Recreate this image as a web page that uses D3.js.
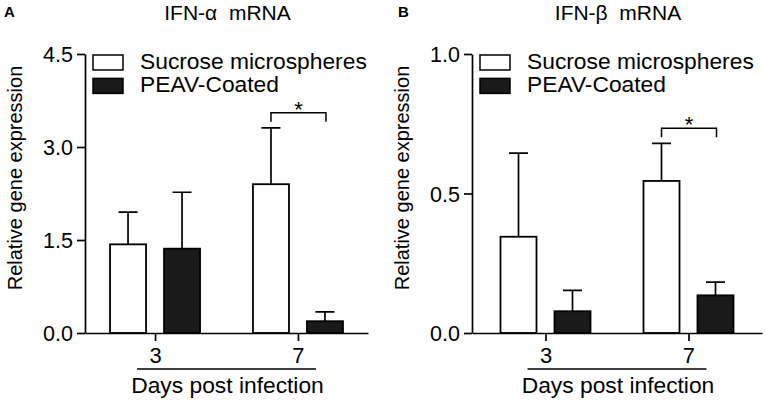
<!DOCTYPE html>
<html>
<head>
<meta charset="utf-8">
<script src="https://cdn.jsdelivr.net/npm/d3@7"></script>
<style>
  body { margin: 0; background: #fff; }
  text { font-family: "Liberation Sans", Arial, sans-serif; fill: #000; }
</style>
</head>
<body>
<svg id="chart" width="765" height="403"></svg>
<script>
// Data (mean and SD per group)
var days = ["3", "7"];
var seriesNames = ["Sucrose microspheres", "PEAV-Coated"];

var alphaSucrose = [1.43, 2.40];
var alphaSucroseSd = [0.52, 0.91];
var alphaPeav = [1.36, 0.19];
var alphaPeavSd = [0.91, 0.15];

var betaSucrose = [0.345, 0.545];
var betaSucroseSd = [0.30, 0.135];
var betaPeav = [0.078, 0.135];
var betaPeavSd = [0.075, 0.047];

var alphaTicks = [0, 1.5, 3.0, 4.5];
var betaTicks = [0, 0.5, 1.0];

var fills = ["#ffffff", "#1a1a1a"];

var svg = d3.select("#chart");
svg.append("rect").attr("width", 765).attr("height", 403).attr("fill", "#fff");

// Draw one panel of the figure
function drawPanel(opt) {
    var g = svg.append("g");

    var y = d3.scaleLinear().domain([0, opt.max]).range([333, 54]);
    var x = d3.scalePoint().domain(days).range([opt.left, opt.right]).padding(opt.pad);
    var sub = d3.scaleBand().domain(seriesNames).range([-45, 45]).paddingInner(0.333);

    // bars + error bars
    var rows = [];
    days.forEach(function(d, i) {
        rows.push({ day: d, s: 0, v: opt.sucrose[i], sd: opt.sucroseSd[i] });
        rows.push({ day: d, s: 1, v: opt.peav[i], sd: opt.peavSd[i] });
    });

    var bar = g.selectAll(".bar").data(rows).enter().append("g");

    bar.append("path")
        .attr("fill", "none")
        .attr("stroke", "#000")
        .attr("stroke-width", 1.7)
        .attr("d", function(d) {
            var cx = x(d.day) + sub(seriesNames[d.s]) + sub.bandwidth() / 2;
            var top = y(d.v + d.sd);
            return "M" + cx + "," + y(d.v) + "V" + top + "M" + (cx - 9.5) + "," + top + "H" + (cx + 9.5);
        });

    bar.append("rect")
        .attr("x", function(d) { return x(d.day) + sub(seriesNames[d.s]); })
        .attr("y", function(d) { return y(d.v); })
        .attr("width", sub.bandwidth())
        .attr("height", function(d) { return y(0) - y(d.v); })
        .attr("fill", function(d) { return fills[d.s]; })
        .attr("stroke", "#000")
        .attr("stroke-width", 1.8);

    // y axis
    var yAxis = g.append("g")
        .attr("transform", "translate(" + opt.left + ",0)")
        .call(d3.axisLeft(y).tickValues(opt.ticks).tickFormat(d3.format(".1f"))
            .tickSize(8).tickSizeOuter(0).tickPadding(4));
    yAxis.selectAll("text").style("font-size", "21.5px").attr("dy", "0.36em")
        .style("font-family", "Liberation Sans, Arial, sans-serif").attr("fill", "#000");
    yAxis.selectAll("line,path").attr("stroke", "#000").attr("stroke-width", 1.7);

    // x axis
    var xAxis = g.append("g")
        .attr("transform", "translate(0," + y(0) + ")")
        .call(d3.axisBottom(x).tickSize(8).tickSizeOuter(0).tickPadding(6));
    xAxis.selectAll("text").style("font-size", "22px")
        .style("font-family", "Liberation Sans, Arial, sans-serif").attr("fill", "#000");
    xAxis.selectAll("line,path").attr("stroke", "#000").attr("stroke-width", 1.7);

    // underline + x label
    var x0 = x(days[0]) - 18, x1 = x(days[1]) + 18;
    g.append("line")
        .attr("x1", x0).attr("x2", x1).attr("y1", 369).attr("y2", 369)
        .attr("stroke", "#000").attr("stroke-width", 1.5);
    g.append("text")
        .attr("x", (x0 + x1) / 2 + 1).attr("y", 393)
        .attr("text-anchor", "middle")
        .style("font-size", "22.8px")
        .text("Days post infection");

    // y label
    g.append("text")
        .attr("transform", "translate(" + (opt.left - 63) + ",178) rotate(-90)")
        .attr("text-anchor", "middle")
        .style("font-size", "20px")
        .text("Relative gene expression");

    // title and panel letter
    g.append("text")
        .attr("x", (opt.left + opt.right) / 2 + 1).attr("y", 20)
        .attr("text-anchor", "middle")
        .style("font-size", "21px")
        .style("white-space", "pre")
        .text(opt.title);
    g.append("text")
        .attr("x", opt.letterX).attr("y", 17)
        .style("font-size", "15px").style("font-weight", "bold")
        .text(opt.letter);

    // legend
    var leg = g.selectAll(".leg").data(seriesNames).enter().append("g")
        .attr("transform", function(d, i) { return "translate(" + (opt.left + 8) + "," + (54 + i * 23.4) + ")"; });
    leg.append("rect")
        .attr("x", 0).attr("y", 1).attr("width", 30).attr("height", 15)
        .attr("fill", function(d, i) { return fills[i]; })
        .attr("stroke", "#000").attr("stroke-width", 1.5);
    leg.append("text")
        .attr("x", 47).attr("y", 14.5)
        .style("font-size", "22.8px")
        .text(function(d) { return d; });

    // significance bracket over day 7
    var bx0 = x(days[1]) + sub(seriesNames[0]) + sub.bandwidth() / 2;
    var bx1 = x(days[1]) + sub(seriesNames[1]) + sub.bandwidth() / 2 + 1;
    var by = y(opt.sucrose[1] + opt.sucroseSd[1]) - 15;
    g.append("path")
        .attr("fill", "none").attr("stroke", "#000").attr("stroke-width", 1.5)
        .attr("d", "M" + bx0 + "," + (by + 9) + "V" + by + "H" + bx1 + "V" + (by + 9));
    g.append("text")
        .attr("x", (bx0 + bx1) / 2).attr("y", by + 4)
        .attr("text-anchor", "middle")
        .style("font-size", "22px")
        .text("*");
}

drawPanel({
    left: 85, right: 368, pad: 0.49, max: 4.5, ticks: alphaTicks,
    sucrose: alphaSucrose, sucroseSd: alphaSucroseSd, peav: alphaPeav, peavSd: alphaPeavSd,
    title: "IFN-\u03b1  mRNA", letter: "A", letterX: 4
});

drawPanel({
    left: 472, right: 762, pad: 0.514, max: 1.0, ticks: betaTicks,
    sucrose: betaSucrose, sucroseSd: betaSucroseSd, peav: betaPeav, peavSd: betaPeavSd,
    title: "IFN-\u03b2  mRNA", letter: "B", letterX: 398
});
</script>
</body>
</html>
